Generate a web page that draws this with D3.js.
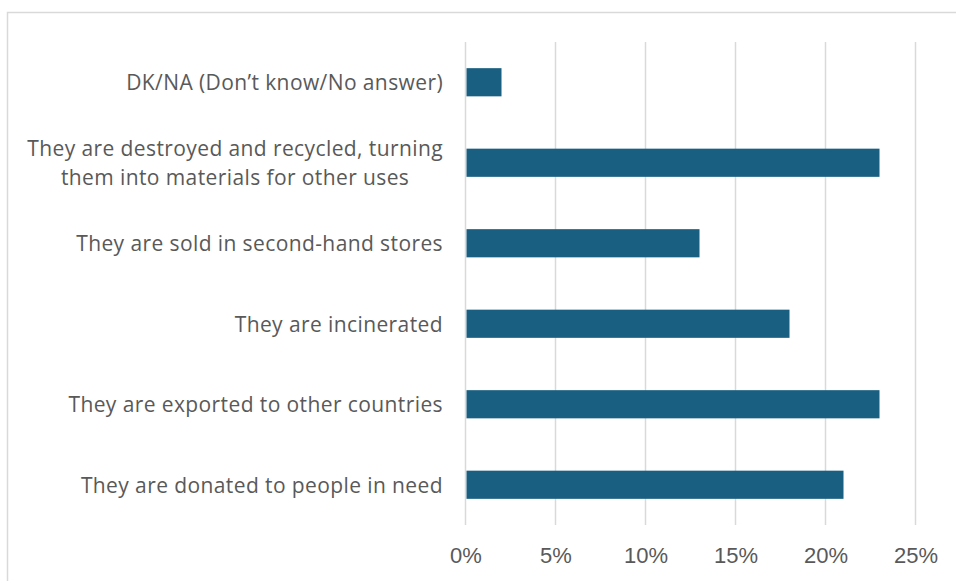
<!DOCTYPE html>
<html>
<head>
<meta charset="utf-8">
<script src="https://cdn.jsdelivr.net/npm/d3@7"></script>
<style>
  html, body { margin: 0; padding: 0; background: #fff; }
  svg { display: block; }
  text { font-family: "Open Sans", "Noto Sans", sans-serif; fill: #595959; }
</style>
</head>
<body>
<svg id="chart" width="956" height="581"></svg>
<script>
// Where do donated clothes end up? Share of responses per answer.
const categories = [
  "DK/NA (Don\u2019t know/No answer)",
  "They are destroyed and recycled, turning\nthem into materials for other uses",
  "They are sold in second-hand stores",
  "They are incinerated",
  "They are exported to other countries",
  "They are donated to people in need"
];
const values = [2, 23, 13, 18, 23, 21];
const tickValues = [0, 5, 10, 15, 20, 25];

const W = 956, H = 581;
const margin = { left: 465.5, right: 40.5, top: 42, bottom: 56 };

const svg = d3.select("#chart");

// chart frame (top and left edges)
svg.append("path")
  .attr("d", `M7.5,${H} V12.5 H${W}`)
  .attr("fill", "none")
  .attr("stroke", "#d9d9d9")
  .attr("stroke-width", 1.5);

const x = d3.scaleLinear().domain([0, 25]).range([margin.left, W - margin.right]);
const y = d3.scaleBand().domain(categories).range([margin.top, H - margin.bottom])
  .paddingInner(0.65).paddingOuter(0.325);

// vertical gridlines
svg.append("g").selectAll("line").data(tickValues).join("line")
  .attr("x1", d => x(d)).attr("x2", d => x(d))
  .attr("y1", margin.top).attr("y2", H - margin.bottom)
  .attr("stroke", "#d9d9d9").attr("stroke-width", 1.5);

// bars
svg.append("g").selectAll("rect").data(categories).join("rect")
  .attr("x", x(0) + 1)
  .attr("y", d => y(d))
  .attr("width", (d, i) => x(values[i]) - x(0) - 1)
  .attr("height", y.bandwidth())
  .attr("fill", "#185f81");

// x tick labels
const xAxis = d3.axisBottom(x).tickValues(tickValues).tickFormat(d => d + "%").tickSize(0).tickPadding(0);
const gx = svg.append("g").attr("transform", `translate(0,${H - margin.bottom + 22})`).call(xAxis);
gx.select(".domain").remove();
gx.selectAll("text")
  .style("font-family", "'Liberation Sans', Arial, sans-serif")
  .style("font-size", "22px").attr("fill", "#595959");

// category labels, right aligned; wrapped lines centred within the block
const labelRight = 443;
const lineH = 29;
const lg = svg.append("g");
categories.forEach(c => {
  const lines = c.split("\n");
  const cy = y(c) + y.bandwidth() / 2;
  const t = lg.append("text")
    .attr("font-size", 21)
    .attr("letter-spacing", "0.4px")
    .attr("dominant-baseline", "central");
  const spans = lines.map((ln, i) => t.append("tspan")
    .attr("y", cy + (i - (lines.length - 1) / 2) * lineH)
    .text(ln));
  if (lines.length === 1) {
    t.attr("text-anchor", "end");
    spans[0].attr("x", labelRight);
  } else {
    const widths = spans.map(s => s.node().getComputedTextLength());
    const maxW = d3.max(widths);
    t.attr("text-anchor", "middle");
    spans.forEach(s => s.attr("x", labelRight - maxW / 2));
  }
});
</script>
</body>
</html>
